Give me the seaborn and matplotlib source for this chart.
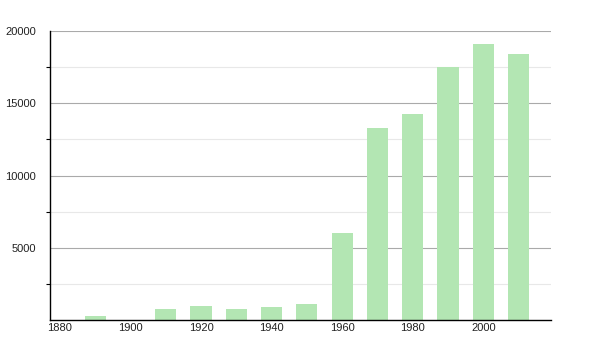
import matplotlib
matplotlib.use("Agg")
import matplotlib.pyplot as plt
import seaborn as sns
import pandas as pd
from matplotlib.ticker import FixedLocator

years = [1890, 1910, 1920, 1930, 1940, 1950, 1960, 1970, 1980, 1990, 2000, 2010]
population = [300, 760, 990, 780, 920, 1130, 6050, 13310, 14260, 17490, 19100, 18410]
x_tick_labels = [1880, 1900, 1920, 1940, 1960, 1980, 2000]
y_tick_labels = [5000, 10000, 15000, 20000]

sns.set_theme(style="white")
plt.rcParams['font.family'] = ['Liberation Sans', 'DejaVu Sans']

df = pd.DataFrame({"year": years, "population": population})

fig = plt.figure(figsize=(6, 3.5), dpi=100)
ax = fig.add_axes([50/600, 30/350, 501/600, 289/350])

sns.barplot(data=df, x="year", y="population", native_scale=True, width=0.6,
            color="#b3e6b3", saturation=1, edgecolor="none", ax=ax)

ax.set_xlim(1877.2, 2019.2)
ax.set_ylim(0, 20000)
ax.set_xlabel("")
ax.set_ylabel("")

ax.xaxis.set_major_locator(FixedLocator(x_tick_labels))
ax.set_xticklabels([str(v) for v in x_tick_labels], fontsize=8, color="#222222")
ax.yaxis.set_major_locator(FixedLocator(y_tick_labels))
ax.set_yticklabels([str(v) for v in y_tick_labels], fontsize=8, color="#222222")
ax.yaxis.set_minor_locator(FixedLocator([2500, 7500, 12500, 17500]))

ax.grid(which="major", axis="y", color="#aaaaaa", linewidth=0.8)
ax.grid(which="minor", axis="y", color="#e8e8e8", linewidth=0.8)
ax.set_axisbelow(True)

ax.tick_params(axis="x", which="both", length=0, pad=2)
ax.tick_params(axis="y", which="major", length=0, pad=10)
ax.tick_params(axis="y", which="minor", length=3, width=0.8, color="black", left=True)

for s in ["top", "right"]:
    ax.spines[s].set_visible(False)
for s in ["left", "bottom"]:
    ax.spines[s].set_color("black")
    ax.spines[s].set_linewidth(1.0)

fig.savefig("out.png", dpi=100)
